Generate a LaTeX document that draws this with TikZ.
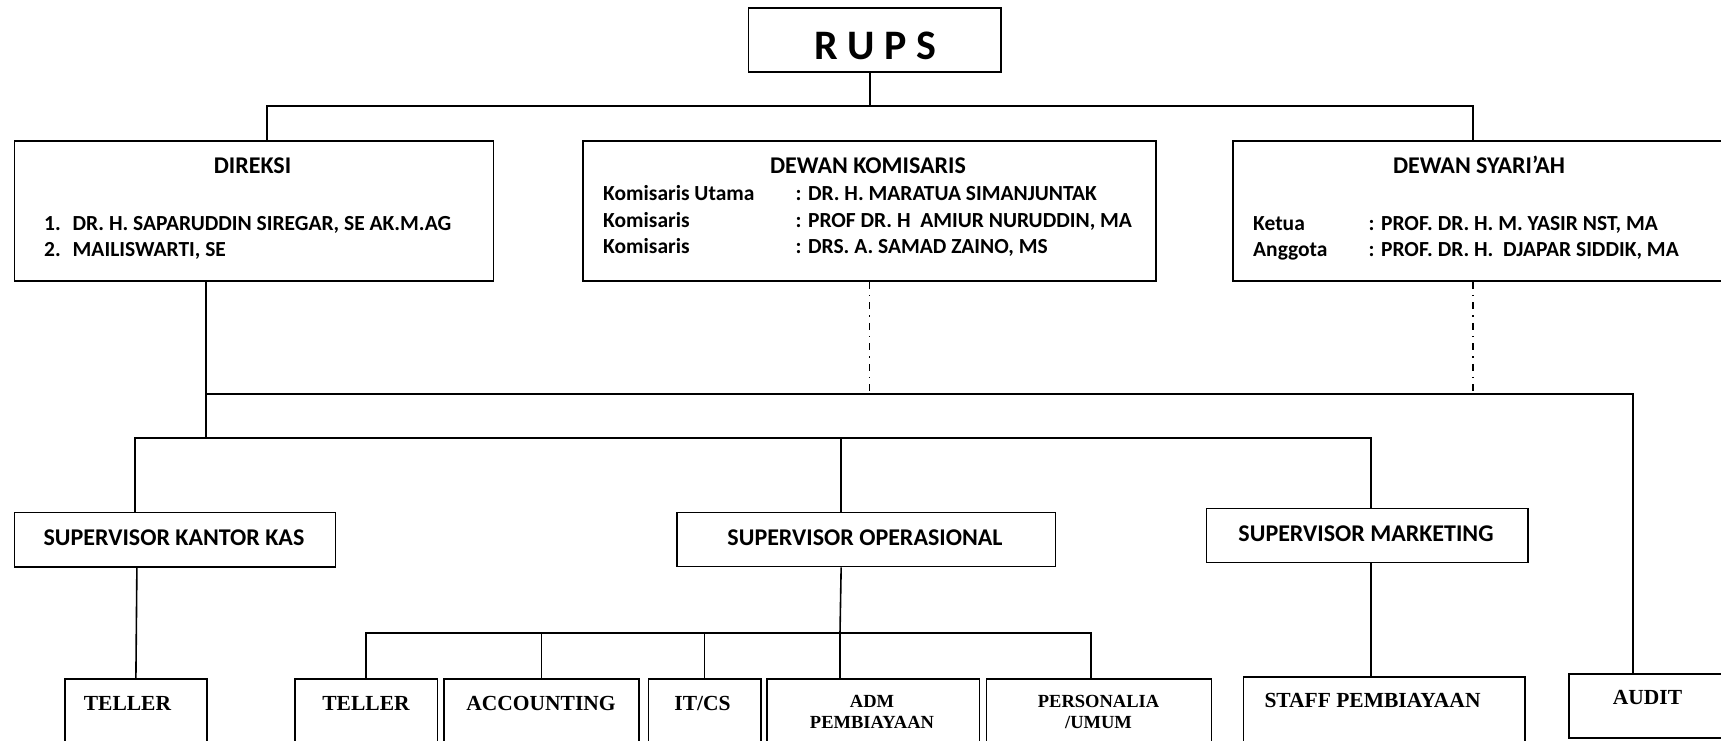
\documentclass[tikz,border=0pt]{standalone}
\usepackage{fontspec}
\setmainfont{Carlito}
\newfontfamily\serifbf{Liberation Serif}
\usetikzlibrary{positioning}
\tikzset{
  box/.style 2 args={draw=black,line width=1.8pt,inner sep=0pt,anchor=north west,
    minimum width=#1,minimum height=#2},
  head/.style={font=\bfseries\fontsize{24}{27}\selectfont,inner sep=0pt,anchor=base},
  entry/.style={font=\bfseries\fontsize{21.5}{24}\selectfont,inner sep=0pt,anchor=base west},
  sup/.style={font=\bfseries\fontsize{24}{27}\selectfont,inner sep=0pt,anchor=base},
  unit/.style={font=\serifbf\bfseries\fontsize{21.5}{24}\selectfont,inner sep=0pt,anchor=base},
  unit small/.style={font=\serifbf\bfseries\fontsize{18.5}{21.5}\selectfont,inner sep=0pt,align=center},
  link/.style={line width=1.6pt},
  bus/.style={line width=2pt},
  watch/.style={line width=1.2pt,dash pattern=on 7pt off 6pt on 1.5pt off 6pt},
}

\begin{document}
\begin{tikzpicture}[x=1pt,y=-1pt]
  \useasboundingbox (0,0) rectangle (1721,741);
  \clip (0,0) rectangle (1721,741);
  % boxes
  \node[box={252.5pt}{64pt}] (rups) at (747.5,7.5) {};
  \node[box={479pt}{140pt}] (dir) at (13.5,140) {};
  \node[box={573pt}{140pt}] (kom) at (582,140) {};
  \node[box={540pt}{140pt}] (sya) at (1232,140) {};
  \node[box={321pt}{54.5pt}] (skk) at (13.5,511.5) {};
  \node[box={378.5pt}{54pt}] (sop) at (676,511.5) {};
  \node[box={321.5pt}{54pt}] (smk) at (1205.5,507.5) {};
  \node[box={142pt}{100pt}] (tel1) at (64,678) {};
  \node[box={142.5pt}{100pt}] (tel2) at (294,678) {};
  \node[box={195pt}{100pt}] (acc) at (443,678) {};
  \node[box={112.5pt}{100pt}] (itcs) at (647.5,678) {};
  \node[box={212.5pt}{100pt}] (adm) at (766,678) {};
  \node[box={225pt}{100pt}] (pers) at (985.5,678) {};
  \node[box={281.5pt}{100pt}] (stf) at (1242.5,676) {};
  \node[box={200pt}{64pt}] (aud) at (1568,673) {};

  % texts
  \node[font=\bfseries\fontsize{42}{48}\selectfont,inner sep=0pt,anchor=base] (rupst) at (875.5,59.5) {R U P S};
  \node[head] (dirh) at (252.5,173) {DIREKSI};
  \node[head] (komh) at (868,173) {DEWAN KOMISARIS};
  \node[head] (syah) at (1479,173) {DEWAN SYARI’AH};
  \foreach \i/\y/\t in {1/230/{DR. H. SAPARUDDIN SIREGAR, SE AK.M.AG},2/256.5/{MAILISWARTI, SE}}{
    \node[entry] (dirno\i) at (44,\y) {\i.};
    \node[entry] (dirname\i) at (72.5,\y) {\t};
  }
  \foreach \i/\y/\r/\t in {1/200.5/Komisaris Utama/{: DR. H. MARATUA SIMANJUNTAK},
      2/227/Komisaris/{: PROF DR. H\ \ AMIUR NURUDDIN, MA},
      3/253/Komisaris/{: DRS. A. SAMAD ZAINO, MS}}{
    \node[entry] (komrole\i) at (603,\y) {\r};
    \node[entry] (komname\i) at (795.5,\y) {\t};
  }
  \foreach \i/\y/\r/\t in {1/230/Ketua/{: PROF. DR. H. M. YASIR NST, MA},
      2/256.5/Anggota/{: PROF. DR. H.\ \ DJAPAR SIDDIK, MA}}{
    \node[entry] (syarole\i) at (1253,\y) {\r};
    \node[entry] (syaname\i) at (1368.5,\y) {\t};
  }
  \node[sup] (skkt) at (174,545) {SUPERVISOR KANTOR KAS};
  \node[sup] (sopt) at (865,545) {SUPERVISOR OPERASIONAL};
  \node[sup] (smkt) at (1366,541.5) {SUPERVISOR MARKETING};
  \node[unit] (tel1t) at (127.5,710) {TELLER};
  \node[unit] (tel2t) at (366,710) {TELLER};
  \node[unit] (acct) at (541,710) {ACCOUNTING};
  \node[unit] (itcst) at (702.5,710) {IT/CS};
  \node[unit small] (admt) at (872,712) {ADM\\PEMBIAYAAN};
  \node[unit small] (perst) at (1098.5,712) {PERSONALIA\\/UMUM};
  \node[unit] (stft) at (1372.5,707.5) {STAFF PEMBIAYAAN};
  \node[unit] (audt) at (1647.5,704) {AUDIT};

  % lines
  \coordinate (j0) at (870,106);
  \coordinate (j1) at (206,394);
  \coordinate (j2) at (206,438);
  \coordinate (j3) at (840,633);
  \draw[link] (rups.south -| j0) -- (j0);
  \draw[bus] ([xshift=13pt]dir.north) |- (j0) -| ([xshift=-30pt]sya.north);
  \draw[link] (dir.south -| j1) -- (j2);
  \draw[watch] (kom.south) -- (kom.south |- j1);
  \draw[watch] ([xshift=-30pt]sya.south) -- ([xshift=-30pt]sya.south |- j1);
  \draw[bus] (j1) -| ([xshift=-36pt]aud.north);
  \draw[bus] ([xshift=-40pt]skk.north) |- (j2) -| ([xshift=4pt]smk.north);
  \draw[link] ([xshift=-25pt]sop.north) -- ([xshift=-25pt]sop.north |- j2);
  \draw[link] ([xshift=-38pt]skk.south) -- (tel1.north);
  \draw[link] ([xshift=-25pt]sop.south) -- (j3);
  \draw[bus] (tel2.north) |- (j3) -| ([xshift=-8pt]pers.north);
  \foreach \b in {acc,itcs} \draw[link] (\b.north) -- (\b.north |- j3);
  \draw[link] (j3) -- (j3 |- adm.north);
  \draw[link] ([xshift=4pt]smk.south) -- ([xshift=4pt]smk.south |- stf.north);
\end{tikzpicture}
\end{document}
